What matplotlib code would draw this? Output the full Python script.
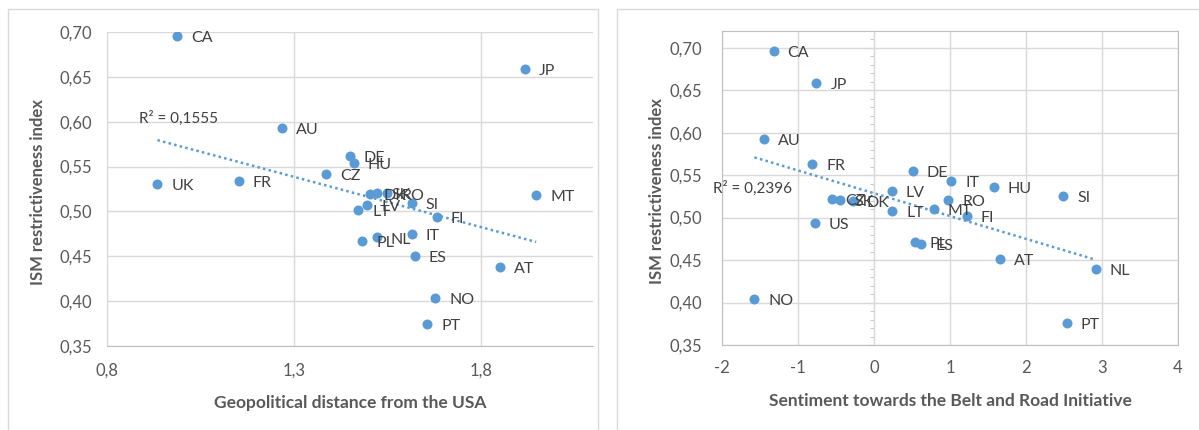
import numpy as np
import matplotlib.pyplot as plt
from matplotlib.patches import Rectangle
from matplotlib.ticker import FixedLocator, FuncFormatter, MultipleLocator

plt.rcParams['font.family'] = ['Lato', 'DejaVu Sans']

# ---- data: left panel (geopolitical distance from the USA) ----
left_codes = ["CA", "JP", "AU", "DE", "HU", "CZ", "UK", "FR", "MT", "DK", "SK", "RO",
              "LV", "LT", "SI", "FI", "IT", "PL", "NL", "ES", "AT", "NO", "PT"]
left_x = [0.987, 1.917, 1.269, 1.449, 1.460, 1.387, 0.935, 1.153, 1.948, 1.503, 1.523, 1.550,
          1.496, 1.472, 1.615, 1.683, 1.615, 1.483, 1.521, 1.623, 1.851, 1.678, 1.657]
left_y = [0.696, 0.659, 0.593, 0.562, 0.554, 0.542, 0.531, 0.534, 0.518, 0.519, 0.521, 0.520,
          0.507, 0.502, 0.509, 0.494, 0.475, 0.467, 0.471, 0.450, 0.438, 0.404, 0.375]
left_r2 = "R² = 0,1555"

# ---- data: right panel (sentiment towards BRI) ----
right_codes = ["CA", "JP", "AU", "FR", "DE", "IT", "HU", "SI", "LV", "CZ", "SK", "DK",
               "RO", "MT", "LT", "FI", "US", "PL", "ES", "AT", "NL", "NO", "PT"]
right_x = [-1.32, -0.757, -1.453, -0.811, 0.512, 1.019, 1.576, 2.49, 0.231, -0.556, -0.446, -0.276,
           0.978, 0.783, 0.24, 1.224, -0.781, 0.542, 0.622, 1.655, 2.92, -1.573, 2.54]
right_y = [0.696, 0.658, 0.593, 0.563, 0.555, 0.543, 0.536, 0.525, 0.531, 0.522, 0.521, 0.520,
           0.521, 0.510, 0.508, 0.502, 0.494, 0.471, 0.469, 0.451, 0.439, 0.404, 0.376]
right_r2 = "R² = 0,2396"

blue = "#5b9bd5"
grid_c = "#d9d9d9"
axis_c = "#bfbfbf"
txt_c = "#595959"
lab_c = "#404040"

comma = FuncFormatter(lambda v, p: f"{v:.2f}".replace(".", ","))

fig = plt.figure(figsize=(11.99, 4.30), dpi=100)

# chart area frames
fig.patches.append(Rectangle((8 / 1199, -0.01), 590 / 1199, 1 - 9 / 430 + 0.01,
                             transform=fig.transFigure, fill=False, ec=grid_c, lw=1))
fig.patches.append(Rectangle((617 / 1199, -0.01), 0.5, 1 - 9 / 430 + 0.01,
                             transform=fig.transFigure, fill=False, ec=grid_c, lw=1))

ax1 = fig.add_axes([107 / 1199, (430 - 346) / 430, 486 / 1199, 314 / 430])
ax2 = fig.add_axes([722 / 1199, (430 - 345) / 430, 456 / 1199, 314.3 / 430])


def draw(ax, xs, ys, codes):
    ax.scatter(xs, ys, s=52, color=blue, zorder=3, linewidths=0)
    for x, y, c in zip(xs, ys, codes):
        ax.annotate(c, (x, y), xytext=(10, -1.5), textcoords="offset points",
                    ha="left", va="center", fontsize=11.5, color=lab_c, zorder=4)
    # linear trend line
    k, b = np.polyfit(xs, ys, 1)
    xx = np.array([min(xs), max(xs)])
    ax.plot(xx, k * xx + b, ls=(0, (1, 1.3)), lw=1.8, color=blue, zorder=2)
    ax.yaxis.set_major_formatter(comma)
    ax.tick_params(length=0, labelsize=12, labelcolor=txt_c)
    ax.grid(True, color=grid_c, lw=1)
    ax.set_axisbelow(True)
    ax.set_ylabel("ISM restrictiveness index", fontsize=12, fontweight="bold", color=txt_c)


# left panel
draw(ax1, left_x, left_y, left_codes)
ax1.set_xlim(0.8, 2.1)
ax1.set_ylim(0.35, 0.70)
ax1.xaxis.set_major_locator(FixedLocator([0.8, 1.3, 1.8]))
ax1.xaxis.set_major_formatter(FuncFormatter(lambda v, p: f"{v:.1f}".replace(".", ",")))
ax1.yaxis.set_major_locator(MultipleLocator(0.05))
for s in ["top", "right"]:
    ax1.spines[s].set_visible(False)
ax1.spines["left"].set_color(grid_c)
ax1.spines["bottom"].set_color(axis_c)
ax1.tick_params(axis="x", pad=12)
ax1.tick_params(axis="y", pad=11)
ax1.text(0.885, 0.595, left_r2, fontsize=11, color=lab_c, va="bottom")
ax1.set_xlabel("Geopolitical distance from the USA", fontsize=12.5, fontweight="bold", color=txt_c)
ax1.xaxis.set_label_coords(0.5, -0.155)
ax1.yaxis.set_label_coords(-0.126, 0.49)

# right panel
draw(ax2, right_x, right_y, right_codes)
ax2.set_xlim(-2, 4)
ax2.set_ylim(0.35, 0.72)
ax2.xaxis.set_major_locator(MultipleLocator(1))
ax2.xaxis.set_major_formatter(FuncFormatter(lambda v, p: f"{v:.0f}"))
ax2.yaxis.set_major_locator(FixedLocator(np.arange(0.35, 0.701, 0.05)))
for s in ax2.spines.values():
    s.set_color(axis_c)
ax2.tick_params(axis="x", pad=11)
ax2.tick_params(axis="y", pad=14)
ax2.text(-2.12, 0.534, right_r2, fontsize=11, color=lab_c, va="center")
ax2.set_xlabel("Sentiment towards the Belt and Road Initiative", fontsize=12.5,
               fontweight="bold", color=txt_c)
ax2.xaxis.set_label_coords(0.5, -0.152)
ax2.yaxis.set_label_coords(-0.126, 0.49)

# vertical axis crossing at x = 0
sec = ax2.secondary_yaxis(2 / 6)
sec.spines["left"].set_color(axis_c)
sec.yaxis.set_major_locator(FixedLocator(np.arange(0.35, 0.701, 0.05)))
sec.yaxis.set_minor_locator(MultipleLocator(0.01))
sec.tick_params(which="both", labelleft=False, color=axis_c, direction="out")
sec.tick_params(which="major", length=4)
sec.tick_params(which="minor", length=3)

fig.savefig("out.png", dpi=100)
